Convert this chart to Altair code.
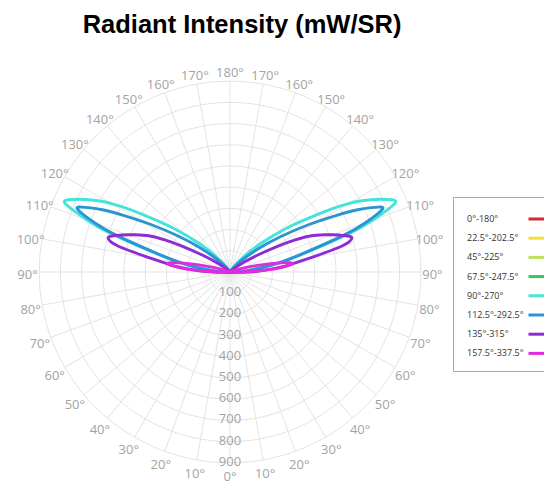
import altair as alt
import numpy as np
import pandas as pd

# ---------------- data ----------------
series_names = ["0°-180°", "22.5°-202.5°", "45°-225°", "67.5°-247.5°",
                "90°-270°", "112.5°-292.5°", "135°-315°", "157.5°-337.5°"]
series_colors = ["#d42a32", "#f2df3a", "#bfe05a", "#3cc060",
                 "#44e3dc", "#2a95d0", "#8e2bd4", "#e22be0"]

# angle from the 0° direction (deg) and intensity (mW/sr), one half-plane;
# the other half-plane of each plane is drawn as its mirror image
cyan_angles = [85, 90, 95, 100, 104, 108, 110, 112.7, 115, 118.6, 121, 124.2, 128, 133, 138, 143, 149]
cyan_values = [0, 20, 95, 225, 360, 600, 720, 845, 810, 700, 600, 456, 330, 195, 100, 40, 0]

blue_angles = [85, 90, 95, 100, 104, 108, 110, 112.5, 114, 116, 118, 121, 125, 129, 134, 140, 146]
blue_values = [0, 20, 90, 215, 345, 570, 680, 780, 750, 670, 570, 435, 290, 182, 90, 30, 0]

purple_angles = [85, 88, 92, 96, 100, 103, 105.6, 108, 111, 114.2, 117, 121, 125, 130, 135]
purple_values = [0, 50, 145, 260, 385, 540, 597, 560, 490, 414, 310, 165, 80, 25, 0]

magenta_angles = [86, 90, 93, 95, 97.4, 99, 101, 103, 106, 110, 114]
magenta_values = [0, 60, 160, 240, 295, 280, 220, 150, 70, 15, 0]

visible = [("90°-270°", cyan_angles, cyan_values),
           ("112.5°-292.5°", blue_angles, blue_values),
           ("135°-315°", purple_angles, purple_values),
           ("157.5°-337.5°", magenta_angles, magenta_values)]

ring_values = [100, 200, 300, 400, 500, 600, 700, 800, 900]
spoke_angles = list(range(0, 360, 10))
angle_label_values = list(range(0, 190, 10))

# ---------------- tables ----------------
rows = []
for name, angs, vals in visible:
    k = 0
    for a, v in zip(angs, vals):          # left half-plane
        rows.append({"series": name, "theta": a, "r": v, "side": -1, "ord": k}); k += 1
    for a, v in zip(angs[::-1], vals[::-1]):  # right half-plane
        rows.append({"series": name, "theta": a, "r": v, "side": 1, "ord": k}); k += 1
lobes_df = pd.DataFrame(rows)

ring_rows = []
for rv in ring_values:
    for i, a in enumerate(range(0, 361, 3)):
        ring_rows.append({"ring": rv, "a": a, "ord": i})
rings_df = pd.DataFrame(ring_rows)

spokes_df = pd.DataFrame({"a": spoke_angles, "rmax": ring_values[-1]})

lab_rows = []
for a in angle_label_values:
    if a in (0, 180):
        lab_rows.append({"a": a, "side": 1, "txt": f"{a}°"})
    else:
        lab_rows.append({"a": a, "side": -1, "txt": f"{a}°"})
        lab_rows.append({"a": a, "side": 1, "txt": f"{a}°"})
angle_labels_df = pd.DataFrame(lab_rows)
radial_df = pd.DataFrame({"r": ring_values})

# ---------------- geometry ----------------
PX = 0.212          # pixels per intensity unit
W, H = 536, 424
CX, CY = 222, 214   # centre of polar plot inside plot area (px)
LABEL_R = 955       # radius of angle labels (intensity units)
xdom = [-CX / PX, (W - CX) / PX]
ydom = [-(H - CY) / PX, CY / PX]

X = lambda f: alt.X(f, type="quantitative", scale=alt.Scale(domain=xdom, nice=False, zero=False), axis=None)
Y = lambda f: alt.Y(f, type="quantitative", scale=alt.Scale(domain=ydom, nice=False, zero=False), axis=None)

grid_color = "#e3e3e3"
label_color = "#a3a3a3"

rings = alt.Chart(rings_df).transform_calculate(
    x="datum.ring * sin(datum.a * PI / 180)",
    y="datum.ring * cos(datum.a * PI / 180)",
).mark_line(color=grid_color, strokeWidth=1).encode(
    x=X("x"), y=Y("y"), detail="ring:N", order="ord:Q")

spokes = alt.Chart(spokes_df).transform_calculate(
    x0="0", y0="0",
    x1="datum.rmax * sin(datum.a * PI / 180)",
    y1="datum.rmax * cos(datum.a * PI / 180)",
).mark_rule(color=grid_color, strokeWidth=1).encode(
    x=X("x0"), y=Y("y0"), x2="x1:Q", y2="y1:Q")

lobes = alt.Chart(lobes_df).transform_calculate(
    x="datum.side * datum.r * sin(datum.theta * PI / 180)",
    y="-datum.r * cos(datum.theta * PI / 180)",
).mark_line(strokeWidth=2.9, interpolate="cardinal").encode(
    x=X("x"), y=Y("y"),
    color=alt.Color("series:N",
                    scale=alt.Scale(domain=series_names, range=series_colors),
                    legend=alt.Legend(title=None, orient="none", legendX=445, legendY=139,
                                      fillColor="white", strokeColor="#a8a8a8", padding=11,
                                      symbolType="stroke", symbolSize=361, symbolStrokeWidth=3,
                                      symbolOffset=63, labelOffset={"expr": "-82"}, labelFontSize=9,
                                      labelFont="Open Sans", labelColor="#333333",
                                      rowPadding=2.2, labelLimit=200)),
    detail="series:N", order="ord:Q")

angle_labels = alt.Chart(angle_labels_df).transform_calculate(
    x=f"datum.side * {LABEL_R} * sin(datum.a * PI / 180)",
    y=f"-{LABEL_R} * cos(datum.a * PI / 180)",
).mark_text(font="Open Sans", fontSize=13, color=label_color, align="center", baseline="middle", dy=3).encode(
    x=X("x"), y=Y("y"), text="txt:N")

radial_labels = alt.Chart(radial_df).transform_calculate(
    x="0", y="-datum.r",
).mark_text(font="Open Sans", fontSize=13, color=label_color, align="center", baseline="middle", dy=-1).encode(
    x=X("x"), y=Y("y"), text="r:Q")

chart = alt.layer(rings, spokes, angle_labels, radial_labels, lobes).properties(
    width=W, height=H,
    autosize=alt.AutoSizeParams(type="none"),
    padding={"left": 0, "top": 50, "right": 0, "bottom": 0},
    title=alt.Title("Radiant Intensity (mW/SR)", font="Liberation Sans", fontSize=25.5,
                    fontWeight="bold", color="#000000", anchor="middle", dx=-34, offset=20),
).configure_view(stroke=None)

chart.save("out.html", embed_options={"renderer": "svg", "actions": False})
